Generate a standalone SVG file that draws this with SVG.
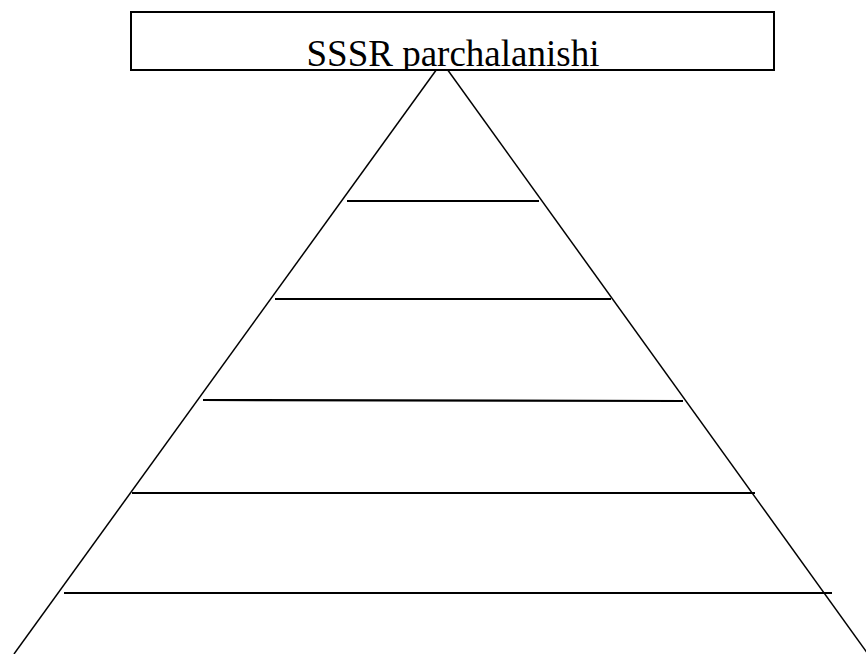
<svg xmlns="http://www.w3.org/2000/svg" width="866" height="654" viewBox="0 0 866 654">
<style>
.side{stroke:#000;stroke-width:1.5;fill:none}
.tier{stroke:#000;stroke-width:2.2;fill:none}
.box{fill:#fff;stroke:#000;stroke-width:2}
.title{font-family:"Liberation Serif","Times New Roman",serif;font-size:37px;fill:#000}
</style>
<defs>
<clipPath id="boxclip"><rect x="131" y="12" width="643" height="58"/></clipPath>
</defs>
<rect width="866" height="654" fill="#fff"/>
<g id="connectors">
<line class="side" x1="442" y1="62" x2="14" y2="654"/>
<line class="side" x1="442" y1="62" x2="868" y2="654"/>
<line class="tier" x1="347" y1="201" x2="539" y2="201"/>
<line class="tier" x1="275" y1="299" x2="611" y2="299"/>
<line class="tier" x1="203" y1="400" x2="683" y2="401"/>
<line class="tier" x1="132" y1="493" x2="755" y2="493"/>
<line class="tier" x1="64" y1="593" x2="832" y2="593"/>
</g>
<g id="title-node">
<rect class="box" x="131" y="12" width="643" height="58"/>
<text class="title" x="453" y="66" text-anchor="middle" clip-path="url(#boxclip)">SSSR parchalanishi</text>
</g>
</svg>
